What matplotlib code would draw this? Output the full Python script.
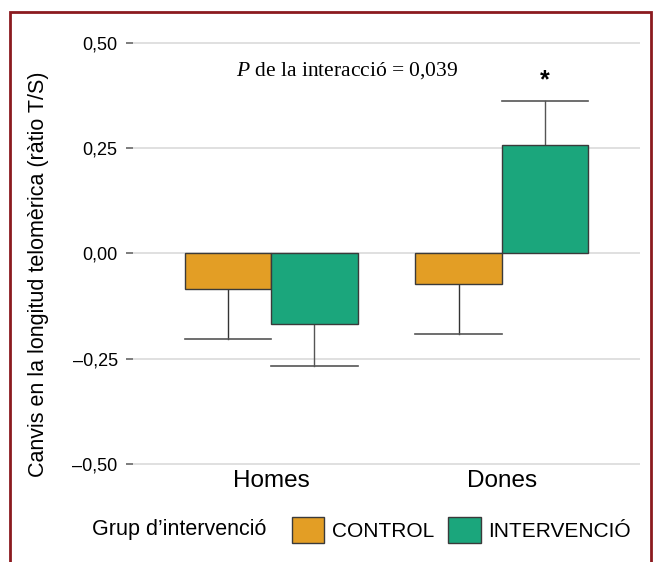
import matplotlib
matplotlib.use('Agg')
import matplotlib.pyplot as plt
import numpy as np
from matplotlib.patches import Patch, Rectangle

plt.rcParams['font.family'] = ['Liberation Sans', 'DejaVu Sans']
plt.rcParams['mathtext.fontset'] = 'custom'
plt.rcParams['mathtext.it'] = 'Liberation Serif:italic'
plt.rcParams['mathtext.rm'] = 'Liberation Serif'

# dades
sexes = ['Homes', 'Dones']
grups = ['CONTROL', 'INTERVENCIÓ']
control = [-0.085, -0.073]
control_err = [0.119, 0.118]
intervencio = [-0.168, 0.257]
intervencio_err = [0.100, 0.105]
colors = ['#E39E25', '#1BA67C']

fig = plt.figure(figsize=(6.56, 5.62), dpi=100)
ax = fig.add_axes([133 / 656, 1 - 466 / 562, 507 / 656, 436 / 562])

x = np.arange(1, len(sexes) + 1)
w = 0.375
ax.bar(x - w / 2, control, w, color=colors[0], edgecolor='#3a3a3a', linewidth=1.0, zorder=3)
ax.bar(x + w / 2, intervencio, w, color=colors[1], edgecolor='#3a3a3a', linewidth=1.0, zorder=3)

# barres d'error (només cap enfora)
for xi, v, e in zip(x - w / 2, control, control_err):
    s = np.sign(v)
    ax.plot([xi, xi], [v, v + s * e], color='#333333', lw=1.0, zorder=2)
    ax.plot([xi - w / 2, xi + w / 2], [v + s * e] * 2, color='#555555', lw=1.2, zorder=2)
for xi, v, e in zip(x + w / 2, intervencio, intervencio_err):
    s = np.sign(v)
    ax.plot([xi, xi], [v, v + s * e], color='#555555', lw=1.0, zorder=2)
    ax.plot([xi - w / 2, xi + w / 2], [v + s * e] * 2, color='#555555', lw=1.2, zorder=2)

ax.text(x[1] + w / 2, 0.41, '*', ha='center', va='center', fontsize=18, fontweight='bold')
ax.text(1.33, 0.433, r'$P$ de la interacció = 0,039', ha='center', va='center',
        fontsize=15.5, family='Liberation Serif')

ax.set_xlim(0.4, 2.6)
ax.set_ylim(-0.505, 0.53)
ax.set_yticks([-0.5, -0.25, 0, 0.25, 0.5])
ax.set_yticklabels(['\u20130,50', '\u20130,25', '0,00', '0,25', '0,50'])
ax.set_xticks(x)
ax.set_xticklabels(sexes, fontsize=17.5)
ax.tick_params(axis='x', length=0, pad=3)
ax.tick_params(axis='y', length=5, width=1.2, color='#666666', labelsize=13, pad=6)
ax.grid(axis='y', color='#dddddd', lw=1.3, zorder=0)
for sp in ax.spines.values():
    sp.set_visible(False)
ax.set_ylabel('Canvis en la longitud telomèrica (ràtio T/S)', fontsize=15.5)
ax.yaxis.set_label_coords(-0.165, 0.44)

# llegenda
fig.text(92 / 656, 1 - 529 / 562, 'Grup d\u2019intervenció', fontsize=15.5, va='center')
handles = [Patch(facecolor=c, edgecolor='#3a3a3a', label=g) for c, g in zip(colors, grups)]
fig.legend(handles=handles, loc='center left', bbox_to_anchor=(292 / 656, 1 - 530 / 562),
           ncol=2, frameon=False, fontsize=15, handlelength=1.55, handleheight=1.6,
           handletextpad=0.35, columnspacing=0.7, borderaxespad=0, borderpad=0)

# marc vermell
fig.patches.append(Rectangle((10 / 656, -0.05), 641 / 656, 1.05 - 12 / 562,
                             transform=fig.transFigure, fill=False,
                             edgecolor='#8B1A1F', lw=2.0))

fig.savefig('out.png', dpi=100)
